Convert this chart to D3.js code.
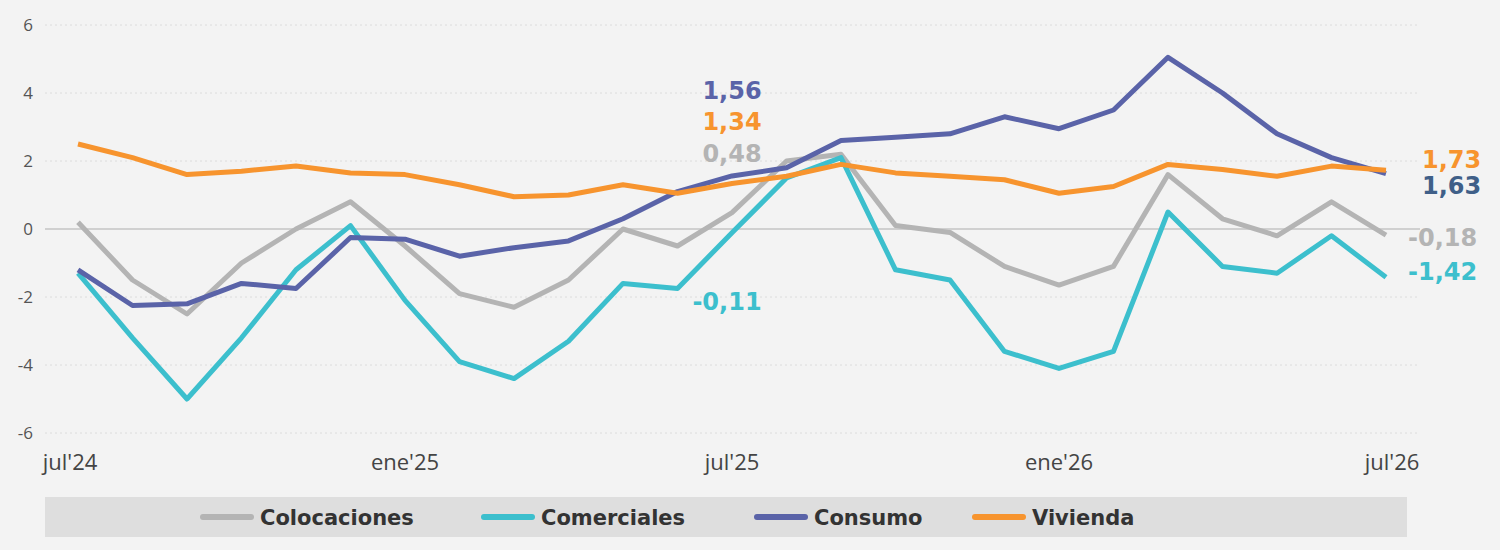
<!DOCTYPE html>
<html><head><meta charset="utf-8">
<script src="https://cdn.jsdelivr.net/npm/d3@7"></script>
<style>body{margin:0;background:#f3f3f3;font-family:"Open Sans",sans-serif}</style>
</head><body><svg id="c" width="1500" height="550"></svg>
<script>
const months=["jul'24","ago'24","sep'24","oct'24","nov'24","dic'24","ene'25","feb'25","mar'25","abr'25","may'25","jun'25","jul'25","ago'25","sep'25","oct'25","nov'25","dic'25","ene'26","feb'26","mar'26","abr'26","may'26","jun'26","jul'26"];
const tickLabels=["jul'24","ene'25","jul'25","ene'26","jul'26"];
const yTicks=[-6,-4,-2,0,2,4,6];
const colocaciones=[0.2,-1.5,-2.5,-1.0,0.0,0.8,-0.5,-1.9,-2.3,-1.5,0.0,-0.5,0.48,2.0,2.2,0.1,-0.1,-1.1,-1.65,-1.1,1.6,0.3,-0.2,0.8,-0.18];
const comerciales=[-1.3,-3.2,-5.0,-3.2,-1.2,0.1,-2.1,-3.9,-4.4,-3.3,-1.6,-1.75,-0.11,1.5,2.1,-1.2,-1.5,-3.6,-4.1,-3.6,0.5,-1.1,-1.3,-0.2,-1.42];
const consumo=[-1.2,-2.25,-2.2,-1.6,-1.75,-0.25,-0.3,-0.8,-0.55,-0.35,0.3,1.1,1.56,1.8,2.6,2.7,2.8,3.3,2.95,3.5,5.05,4.0,2.8,2.1,1.63];
const vivienda=[2.5,2.1,1.6,1.7,1.85,1.65,1.6,1.3,0.95,1.0,1.3,1.05,1.34,1.55,1.9,1.65,1.55,1.45,1.05,1.25,1.9,1.75,1.55,1.85,1.73];
const series=[
 {name:"Colocaciones",v:colocaciones,c:"#b4b4b4"},
 {name:"Comerciales",v:comerciales,c:"#3cbfcd"},
 {name:"Consumo",v:consumo,c:"#5a63a8"},
 {name:"Vivienda",v:vivienda,c:"#f7942e"}];
const svg=d3.select("#c");
const x=d3.scalePoint().domain(months).range([78,1386]);
const y=d3.scaleLinear().domain([-6,6]).range([433,25]);
const g=svg.append("g");
yTicks.forEach(t=>{
 g.append("line").attr("x1",45).attr("x2",1420).attr("y1",y(t)).attr("y2",y(t))
  .attr("stroke",t===0?"#c4c4c4":"#dcdcdc").attr("stroke-width",t===0?1.5:1).attr("stroke-dasharray",t===0?null:"2,3");
 g.append("text").attr("x",33).attr("y",y(t)+6).attr("text-anchor","end").attr("font-size",17).attr("fill","#555").text(t);
});
tickLabels.forEach((t,i)=>{
 g.append("text").attr("x",x(t)+(i===0?-8:i===4?6:0)).attr("y",470).attr("text-anchor","middle").attr("font-size",22).attr("fill","#444").text(t);
});
const line=d3.line().x((d,i)=>x(months[i])).y(d=>y(d));
series.forEach(s=>{
 g.append("path").attr("d",line(s.v)).attr("fill","none").attr("stroke",s.c).attr("stroke-width",5).attr("stroke-linejoin","round");
});
const fmt=v=>d3.format(".2f")(v).replace(".",",").replace("\u2212","-");
const lab=(txt,xx,yy,col,anchor)=>g.append("text").attr("x",xx).attr("y",yy).attr("text-anchor",anchor||"middle").attr("font-family","DejaVu Sans").attr("font-size",24).attr("font-weight","bold").attr("fill",col).text(txt);
const j=12;
lab(fmt(consumo[j]),x(months[j]),99,"#5a63a8");
lab(fmt(vivienda[j]),x(months[j]),130,"#f7942e");
lab(fmt(colocaciones[j]),x(months[j]),162,"#b4b4b4");
lab(fmt(comerciales[j]),x(months[j])-5,310,"#3cbfcd");
lab(fmt(vivienda[24]),1422,168,"#f7942e","start");
lab(fmt(consumo[24]),1422,194,"#3f5f88","start");
lab(fmt(colocaciones[24]),1408,246,"#b4b4b4","start");
lab(fmt(comerciales[24]),1408,280,"#3cbfcd","start");
svg.append("rect").attr("x",45).attr("y",497).attr("width",1362).attr("height",40).attr("fill","#dedede");
const lx=[203,484,757,975];
series.forEach((s,i)=>{
 svg.append("line").attr("x1",lx[i]).attr("x2",lx[i]+48).attr("y1",517).attr("y2",517).attr("stroke",s.c).attr("stroke-width",6).attr("stroke-linecap","round");
 svg.append("text").attr("x",lx[i]+57).attr("y",525).attr("font-family","DejaVu Sans").attr("font-size",21).attr("font-weight","bold").attr("fill","#333").text(s.name);
});
</script></body></html>
